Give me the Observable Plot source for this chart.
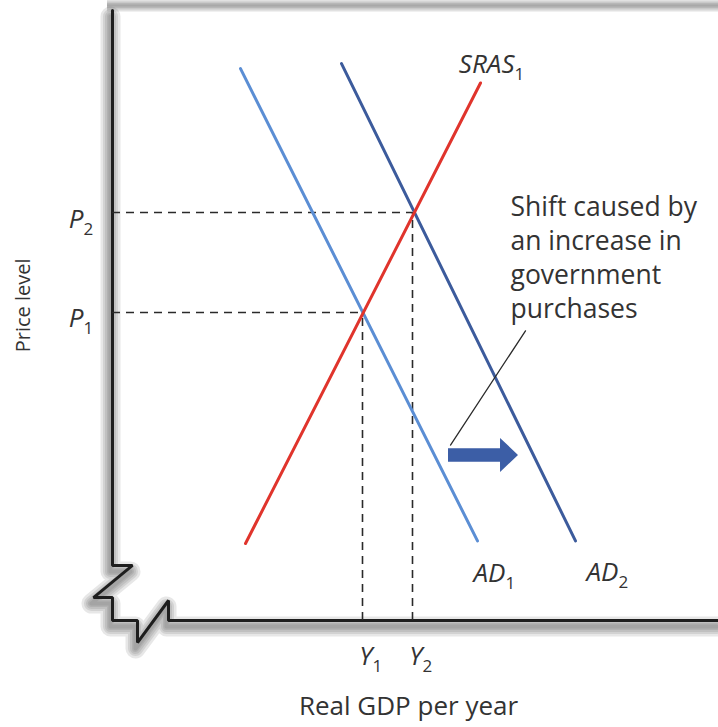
<!DOCTYPE html>
<html>
<head>
<meta charset="utf-8">
<script src="https://cdn.jsdelivr.net/npm/d3@7"></script>
<script src="https://cdn.jsdelivr.net/npm/@observablehq/plot@0.6"></script>
<style>
  html, body { margin: 0; padding: 0; background: #fff; }
  #chart svg { display: block; }
</style>
</head>
<body>
<div id="chart"></div>
<script>
// ---- data (abstract units: quantity on x, price level on y) ----
const Y_levels = [5, 6];           // Y1, Y2
const P_levels = [3.02, 4.0];      // P1, P2
const sras = [{x: 2.66, y: 0.755}, {x: 7.36, y: 5.27}];
const ad1  = [{x: 2.56, y: 5.41}, {x: 7.30, y: 0.78}];
const ad2  = [{x: 4.58, y: 5.46}, {x: 9.26, y: 0.78}];
// axis frame with the broken-axis zigzag at the origin
const frame = [
  {x: 0, y: 5.98}, {x: 0, y: 0.54}, {x: 0.4, y: 0.54}, {x: -0.38, y: 0.225},
  {x: 0, y: 0.225}, {x: 0, y: 0}, {x: 0.5, y: 0}, {x: 0.5, y: -0.216},
  {x: 1.12, y: 0.196}, {x: 1.12, y: 0}, {x: 12.12, y: 0}
];
const topEdge = [6.03];
const curveLabels = [
  {main: "SRAS", sub: "1", x: 8.04, y: 5.37},
  {main: "AD", sub: "1", x: 7.86, y: 0.373},
  {main: "AD", sub: "2", x: 10.12, y: 0.39}
];
const pLabels = [{main: "P", sub: "1", y: P_levels[0]}, {main: "P", sub: "2", y: P_levels[1]}];
const yLabels = [{main: "Y", sub: "1", x: Y_levels[0]}, {main: "Y", sub: "2", x: Y_levels[1]}];
const note = {text: "Shift caused by\nan increase in\ngovernment\npurchases", x: 7.96, y: 4.2};
const leader = [{x: 8.26, y: 2.84}, {x: 6.76, y: 1.72}];
const shift = {x1: 6.72, x2: 8.12, y: 1.618};
const xTitle = "Real GDP per year";
const yTitle = "Price level";

// ---- build arrow polygon from the shift definition ----
const bodyHalf = 0.067, headHalf = 0.167, headLen = 0.36;
const headBase = shift.x2 - headLen;
const arrowShape = [
  {x: shift.x1, y1: shift.y - bodyHalf, y2: shift.y + bodyHalf},
  {x: headBase, y1: shift.y - bodyHalf, y2: shift.y + bodyHalf},
  {x: headBase + 0.001, y1: shift.y - headHalf, y2: shift.y + headHalf},
  {x: shift.x2, y1: shift.y, y2: shift.y}
];

const dashRowsP = P_levels.map((p, i) => ({y: p, x2: Y_levels[i]}));
const dashRowsY = Y_levels.map((q, i) => ({x: q, y2: P_levels[i]}));

const font = "'Open Sans', 'Noto Sans', sans-serif";
const ink = "#333333";
const LAB = 26, SUB = 17;

// layered strokes that fake a soft drop shadow
const shadowLayers = [20, 15, 11, 7, 4].map(w =>
  Plot.line(frame, {x: "x", y: "y", dx: -2, dy: 6, stroke: "#555555", strokeOpacity: 0.14, strokeWidth: w, strokeLinejoin: "round"})
);
const edgeLayers = [12, 8, 5, 2].map(w =>
  Plot.ruleY(topEdge, {x1: -0.1, x2: 12.3, stroke: "#777777", strokeOpacity: 0.22, strokeWidth: w})
);

const chart = Plot.plot({
  width: 718,
  height: 727,
  margin: 0,
  x: {domain: [0, 12], range: [112, 712], axis: null},
  y: {domain: [0, 6], range: [620, 8], axis: null},
  style: {fontFamily: font, background: "#fff", overflow: "hidden"},
  marks: [
    ...edgeLayers,
    ...shadowLayers,
    Plot.line(frame, {x: "x", y: "y", stroke: "#1e1e1e", strokeWidth: 3, strokeLinejoin: "miter"}),
    Plot.ruleY(dashRowsP, {y: "y", x1: 0, x2: "x2", stroke: "#2a2a2a", strokeWidth: 1.6, strokeDasharray: "8,6"}),
    Plot.ruleX(dashRowsY, {x: "x", y1: 0, y2: "y2", stroke: "#2a2a2a", strokeWidth: 1.6, strokeDasharray: "8,6"}),
    Plot.line(ad1, {x: "x", y: "y", stroke: "#5b8ed4", strokeWidth: 3}),
    Plot.line(ad2, {x: "x", y: "y", stroke: "#3c5b9c", strokeWidth: 3}),
    Plot.line(sras, {x: "x", y: "y", stroke: "#e0342c", strokeWidth: 3}),
    Plot.line(leader, {x: "x", y: "y", stroke: "#2a2a2a", strokeWidth: 1.3}),
    Plot.areaY(arrowShape, {x: "x", y1: "y1", y2: "y2", fill: "#3c5ea6"}),
    // curve labels
    Plot.text(curveLabels, {x: "x", y: "y", text: "main", textAnchor: "end", lineAnchor: "bottom", fontSize: LAB, fontStyle: "italic", fill: ink}),
    Plot.text(curveLabels, {x: "x", y: "y", text: "sub", textAnchor: "start", lineAnchor: "bottom", dx: 0, dy: 7, fontSize: SUB, fill: ink}),
    // P labels
    Plot.text(pLabels, {x: -0.58, y: "y", text: "main", textAnchor: "end", lineAnchor: "bottom", dy: 15, fontSize: LAB, fontStyle: "italic", fill: ink}),
    Plot.text(pLabels, {x: -0.58, y: "y", text: "sub", textAnchor: "start", lineAnchor: "bottom", dx: 0, dy: 22, fontSize: SUB, fill: ink}),
    // Y labels
    Plot.text(yLabels, {x: "x", y: -0.44, text: "main", textAnchor: "end", lineAnchor: "bottom", dx: 10, fontSize: LAB, fontStyle: "italic", fill: ink}),
    Plot.text(yLabels, {x: "x", y: -0.44, text: "sub", textAnchor: "start", lineAnchor: "bottom", dx: 10, dy: 7, fontSize: SUB, fill: ink}),
    // annotation
    Plot.text([note], {x: "x", y: "y", text: "text", textAnchor: "start", lineAnchor: "top", lineHeight: 1.28, fontSize: 26.5, fill: ink}),
    // axis titles
    Plot.text([xTitle], {x: 5.92, y: -0.93, text: d => d, textAnchor: "middle", lineAnchor: "bottom", fontSize: 26, fill: ink}),
    Plot.text([yTitle], {x: -1.78, y: 3.09, text: d => d, rotate: -90, textAnchor: "middle", lineAnchor: "middle", fontSize: 20, fill: ink})
  ]
});

document.getElementById("chart").appendChild(chart);
</script>
</body>
</html>
